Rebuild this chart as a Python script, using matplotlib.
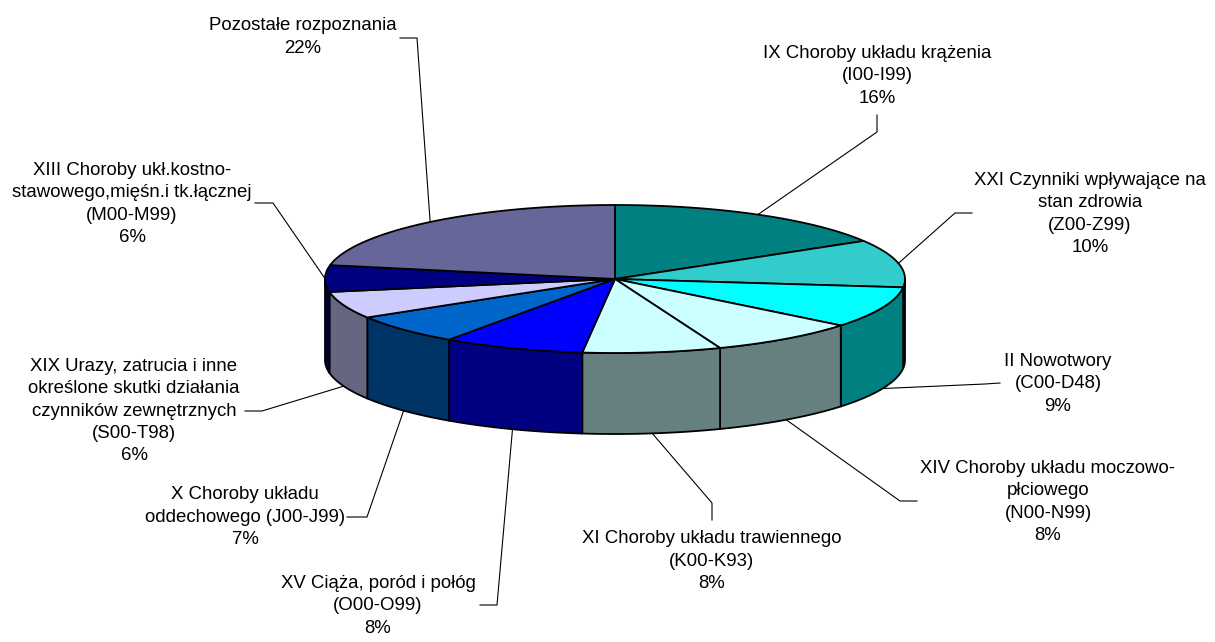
import numpy as np
import matplotlib
matplotlib.use("Agg")
import matplotlib.pyplot as plt
from matplotlib.patches import Polygon
from matplotlib.colors import to_rgb

# shares (percent), clockwise from 12 o'clock
names = [
    "IX Choroby układu krążenia\n(I00-I99)",
    "XXI Czynniki wpływające na\nstan zdrowia\n(Z00-Z99)",
    "II Nowotwory\n(C00-D48)",
    "XIV Choroby układu moczowo-\npłciowego\n(N00-N99)",
    "XI Choroby układu trawiennego\n(K00-K93)",
    "XV Ciąża, poród i połóg\n(O00-O99)",
    "X Choroby układu\noddechowego (J00-J99)",
    "XIX Urazy, zatrucia i inne\nokreślone skutki działania\nczynników zewnętrznych\n(S00-T98)",
    "XIII Choroby ukł.kostno-\nstawowego,mięśn.i tk.łącznej\n(M00-M99)",
    "Pozostałe rozpoznania",
]
shares = [16.4, 10.4, 9.0, 8.3, 7.7, 7.9, 6.6, 5.9, 5.8, 22.0]
colors = ["#008080", "#33CCCC", "#00FFFF", "#CCFFFF", "#CCFFFF",
          "#0000FF", "#0066CC", "#CCCCFF", "#000080", "#666699"]

# label layout (pixel coords): text centre, leader start, leader elbow
text_pos = [(877, 76), (1090, 214), (1058, 384), (1048, 502), (712, 561),
            (378, 606), (245, 517), (134, 411), (132, 204), (303, 37)]
lead_start = [(877, 115), (972, 213), (1000, 383), (917, 501), (712, 520),
              (480, 605), (347, 517), (245, 411), (255, 203), (400, 38)]
lead_elbow = [(877, 132), (955, 213), (985, 384), (900, 501), (712, 503),
              (497, 605), (367, 517), (262, 411), (273, 203), (417, 38)]

# pie geometry
cx, cy, rx, ry, depth = 615, 279, 290, 74, 81


def pt(theta, dy=0.0):
    t = np.radians(theta)
    return cx + rx * np.sin(t), cy - ry * np.cos(t) + dy


plt.rcParams['font.family'] = ['Liberation Sans', 'DejaVu Sans']
fig = plt.figure(figsize=(12.15, 6.42), dpi=100)
ax = fig.add_axes([0, 0, 1, 1])
ax.set_xlim(0, 1215)
ax.set_ylim(642, 0)
ax.axis('off')

total = sum(shares)
ends = np.cumsum(shares) / total * 360
starts = np.concatenate([[0], ends[:-1]])

# side walls (front half only)
for t0, t1, c in zip(starts, ends, colors):
    s0, s1 = max(t0, 90), min(t1, 270)
    if s1 <= s0:
        continue
    ts = np.linspace(s0, s1, 80)
    tx, ty = pt(ts)
    bx, by = pt(ts[::-1], depth)
    xy = np.column_stack([np.concatenate([tx, bx]), np.concatenate([ty, by])])
    side = tuple(np.array(to_rgb(c)) * 0.5)
    ax.add_patch(Polygon(xy, closed=True, facecolor=side, edgecolor='black',
                         lw=1.3, joinstyle='round'))

# top faces
for t0, t1, c in zip(starts, ends, colors):
    ts = np.linspace(t0, t1, 120)
    tx, ty = pt(ts)
    xy = np.column_stack([np.concatenate([[cx], tx]), np.concatenate([[cy], ty])])
    ax.add_patch(Polygon(xy, closed=True, facecolor=c, edgecolor='black',
                         lw=1.3, joinstyle='round'))

# labels and leader lines
for i, name in enumerate(names):
    mid = (starts[i] + ends[i]) / 2
    front = np.cos(np.radians(mid)) < 0
    px, py = pt(mid, depth if front else 0)
    (sx, sy), (ex, ey) = lead_start[i], lead_elbow[i]
    ax.plot([sx, ex, px], [sy, ey, py], color='black', lw=0.8)
    pct = "%d%%" % round(shares[i] / total * 100)
    tx, ty = text_pos[i]
    ax.text(tx, ty, name + "\n" + pct, ha='center', va='center',
            fontsize=13.4, linespacing=1.4, color='black')

fig.savefig("out.png", dpi=100)
